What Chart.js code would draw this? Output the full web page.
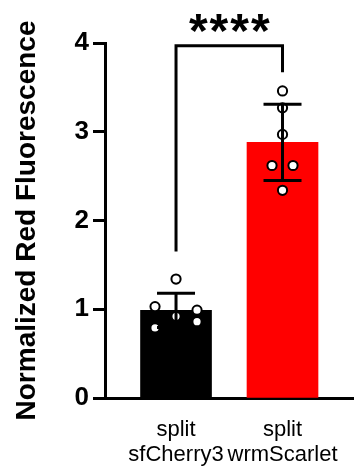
<!DOCTYPE html>
<html>
<head>
<meta charset="utf-8">
<script src="https://cdn.jsdelivr.net/npm/chart.js@4.4.1/dist/chart.umd.min.js"></script>
<style>
  html, body { margin: 0; padding: 0; background: #fff; }
  #wrap { width: 362px; height: 468px; }
</style>
</head>
<body>
<div id="wrap"><canvas id="myChart"></canvas></div>
<script>
// data
const categories = [['split', 'sfCherry3'], ['split', 'wrmScarlet']];
const sfCherry3Values = [1.34, 1.03, 0.99, 0.92, 0.86, 0.79];
const wrmScarletValues = [3.46, 3.27, 2.97, 2.62, 2.62, 2.34];
const barColors = ['#000000', '#ff0000'];
const yTicks = [0, 1, 2, 3, 4];
// significance bracket: left end, top, right end (y values)
const bracketLevels = [1.65, 3.97, 3.67];
const sigLabel = '****';

const FONT = "'Liberation Sans', Arial, Helvetica, sans-serif";
const groups = [sfCherry3Values, wrmScarletValues];
const mean = (a) => a.reduce((s, v) => s + v, 0) / a.length;
const sd = (a) => {
  const m = mean(a);
  return Math.sqrt(a.reduce((s, v) => s + (v - m) ** 2, 0) / (a.length - 1));
};
const means = groups.map(mean);
const sds = groups.map(sd);

const overlay = {
  id: 'overlay',
  afterDraw(chart) {
    const { ctx } = chart;
    const xs = chart.scales.x;
    const ys = chart.scales.y;
    // horizontal spread of the replicate dots, in px
    const jitter = [[0, -21, 21, 0, 21, -21], [0, 0, 0, -10.5, 10.5, 0]];
    ctx.save();

    // dots
    groups.forEach((vals, g) => {
      const cx = xs.getPixelForValue(g + 1);
      vals.forEach((v, i) => {
        ctx.beginPath();
        ctx.arc(cx + jitter[g][i], ys.getPixelForValue(v), 4.6, 0, Math.PI * 2);
        ctx.fillStyle = '#fff';
        ctx.fill();
        ctx.lineWidth = 2;
        ctx.strokeStyle = '#000';
        ctx.stroke();
      });
    });

    // mean +/- SD
    ctx.lineWidth = 3;
    ctx.strokeStyle = '#000';
    means.forEach((m, g) => {
      const cx = xs.getPixelForValue(g + 1);
      const yTop = ys.getPixelForValue(m + sds[g]);
      const yBot = ys.getPixelForValue(m - sds[g]);
      ctx.beginPath();
      ctx.moveTo(cx, yTop);
      ctx.lineTo(cx, yBot);
      ctx.moveTo(cx - 19, yTop);
      ctx.lineTo(cx + 19, yTop);
      ctx.moveTo(cx - 19, yBot);
      ctx.lineTo(cx + 19, yBot);
      ctx.stroke();
    });

    // bracket
    const x1 = xs.getPixelForValue(1);
    const x2 = xs.getPixelForValue(2);
    const yb = ys.getPixelForValue(bracketLevels[1]);
    ctx.beginPath();
    ctx.lineJoin = 'miter';
    ctx.moveTo(x1, ys.getPixelForValue(bracketLevels[0]));
    ctx.lineTo(x1, yb);
    ctx.lineTo(x2, yb);
    ctx.lineTo(x2, ys.getPixelForValue(bracketLevels[2]));
    ctx.stroke();

    ctx.fillStyle = '#000';
    ctx.font = `bold 48px ${FONT}`;
    ctx.textAlign = 'center';
    ctx.textBaseline = 'alphabetic';
    ctx.letterSpacing = '2px';
    ctx.fillText(sigLabel, (x1 + x2) / 2 + 1, yb + 1);
    ctx.restore();
  },
};

new Chart(document.getElementById('myChart'), {
  type: 'bar',
  data: {
    datasets: [{
      data: means.map((m, i) => ({ x: i + 1, y: m })),
      backgroundColor: barColors,
      borderWidth: 0,
      barThickness: 71,
    }],
  },
  options: {
    responsive: true,
    maintainAspectRatio: false,
    animation: false,
    devicePixelRatio: 1,
    layout: { padding: { top: 43, right: 9, left: 0, bottom: 0 } },
    plugins: { legend: { display: false }, tooltip: { enabled: false } },
    scales: {
      x: {
        type: 'linear',
        offset: false,
        min: 0.333,
        max: 2.662,
        afterBuildTicks(s) {
          s.ticks = categories.map((c, i) => ({ value: i + 1 }));
        },
        afterFit(s) {
          s.height = 70;
        },
        grid: { display: false },
        border: { display: true, width: 3, color: '#000' },
        ticks: {
          autoSkip: false,
          maxRotation: 0,
          padding: 12,
          color: '#000',
          font: { family: FONT, size: 22, lineHeight: 1.12 },
          callback: (v) => categories[v - 1],
        },
      },
      y: {
        min: 0,
        max: 4,
        afterBuildTicks(s) {
          s.ticks = yTicks.map((v) => ({ value: v }));
        },
        afterFit(s) {
          s.width = 105;
        },
        grid: {
          drawOnChartArea: false,
          drawTicks: true,
          tickLength: 12,
          tickWidth: 3,
          tickColor: '#000',
        },
        border: { display: true, width: 3, color: '#000' },
        ticks: {
          padding: 4,
          color: '#000',
          font: { family: FONT, size: 26, weight: 'bold' },
        },
        title: {
          display: true,
          text: 'Normalized Red Fluorescence',
          color: '#000',
          font: { family: FONT, size: 28, weight: 'bold', lineHeight: 1.2 },
          padding: { top: 10, bottom: 0 },
        },
      },
    },
  },
  plugins: [overlay],
});
</script>
</body>
</html>
